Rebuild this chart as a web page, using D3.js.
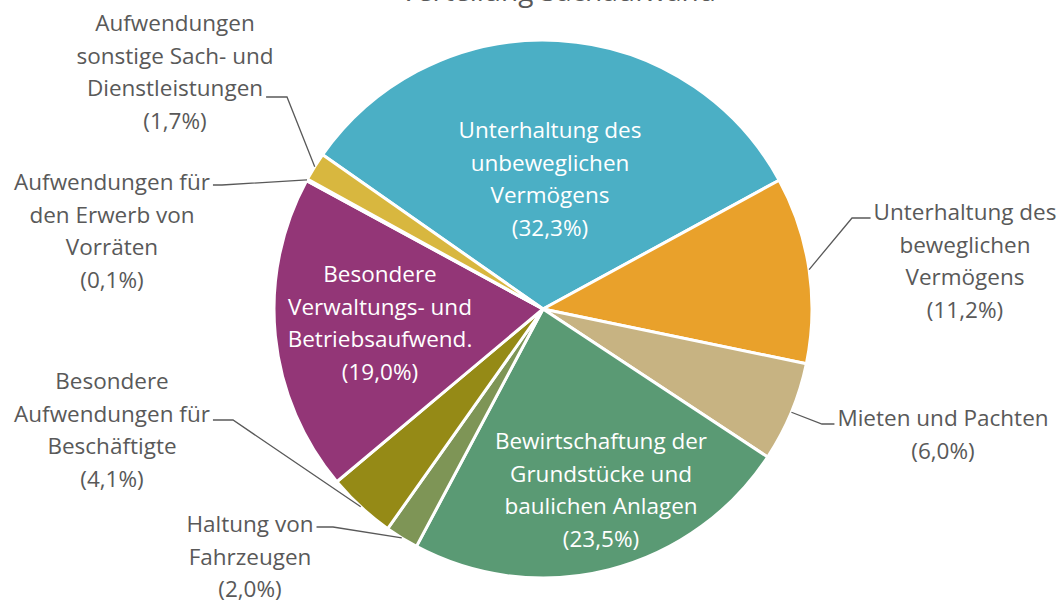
<!DOCTYPE html>
<html>
<head>
<meta charset="utf-8">
<script src="https://cdn.jsdelivr.net/npm/d3@7"></script>
<style>
  body { margin: 0; background: #fff; }
  text { font-family: "Open Sans", sans-serif; }
</style>
</head>
<body>
<div id="chart-area"></div>
<script>
// DATA
var categories = [
    ["Unterhaltung des", "unbeweglichen", "Vermögens"],
    ["Unterhaltung des", "beweglichen", "Vermögens"],
    ["Mieten und Pachten"],
    ["Bewirtschaftung der", "Grundstücke und", "baulichen Anlagen"],
    ["Haltung von", "Fahrzeugen"],
    ["Besondere", "Aufwendungen für", "Beschäftigte"],
    ["Besondere", "Verwaltungs- und", "Betriebsaufwend."],
    ["Aufwendungen für", "den Erwerb von", "Vorräten"],
    ["Aufwendungen", "sonstige Sach- und", "Dienstleistungen"]
];
var values = [32.3, 11.2, 6.0, 23.5, 2.0, 4.1, 19.0, 0.1, 1.7];
var colors = ["#4BAFC5", "#E9A12B", "#C7B382", "#5A9A74", "#7E9556", "#958A16", "#933677", "#C0504D", "#D8B73F"];

// LAYOUT (label centre x, first line y, inside?)
var labelPos = [
    { x: 550, y: 138, inside: true },
    { x: 965, y: 220, inside: false, lineY: 218, lineX: 852, side: "r" },
    { x: 943, y: 426, inside: false, lineY: 424, lineX: 822, side: "r" },
    { x: 601, y: 449, inside: true },
    { x: 250, y: 532, inside: false, lineY: 527, lineX: 333, side: "l" },
    { x: 112, y: 389, inside: false, lineY: 420, lineX: 233, side: "l", lineLine: 1 },
    { x: 380, y: 282, inside: true },
    { x: 112, y: 190, inside: false, lineY: 185, lineX: 222, side: "l" },
    { x: 175, y: 31, inside: false, lineY: 97, lineX: 287, side: "l", lineLine: 2 }
];

var width = 1062, height = 603;
var cx = 543, cy = 309, radius = 269;
var lineH = 32.5;
var fontSize = "22.5px";

var svg = d3.select("#chart-area")
    .append("svg")
    .attr("width", width)
    .attr("height", height);

// Title (cut off at top in the reference)
svg.append("text")
    .attr("x", 558)
    .attr("y", 0.5)
    .attr("text-anchor", "middle")
    .attr("font-size", "28px")
    .attr("fill", "#595959")
    .text("Verteilung Sachaufwand");

var g = svg.append("g")
    .attr("transform", "translate(" + cx + "," + cy + ")");

var pie = d3.pie()
    .sort(null)
    .startAngle(-55 * Math.PI / 180)
    .endAngle(305 * Math.PI / 180);

var arcs = pie(values);

var arc = d3.arc().innerRadius(0).outerRadius(radius);
var edge = d3.arc().innerRadius(radius).outerRadius(radius);

g.selectAll("path.slice")
    .data(arcs)
    .enter().append("path")
    .attr("class", "slice")
    .attr("d", arc)
    .attr("fill", (d, i) => colors[i])
    .attr("stroke", "#fff")
    .attr("stroke-width", 3)
    .attr("stroke-linejoin", "round");

function fmt(v) {
    return "(" + v.toFixed(1).replace(".", ",") + "%)";
}

// Leader lines
arcs.forEach((d, i) => {
    var p = labelPos[i];
    if (p.inside) return;
    var e = edge.centroid(d);
    var ex = cx + e[0], ey = cy + e[1];
    // where the text line ends
    var lines = categories[i];
    var li = p.lineLine || 0;
    var tmp = svg.append("text").attr("font-size", fontSize).text(lines[li]);
    var w = tmp.node().getComputedTextLength();
    tmp.remove();
    var tx = p.side === "l" ? p.x + w / 2 + 3 : p.x - w / 2 - 3;
    svg.append("path")
        .attr("d", "M" + tx + "," + p.lineY + "L" + p.lineX + "," + p.lineY + "L" + ex + "," + ey)
        .attr("fill", "none")
        .attr("stroke", "#595959")
        .attr("stroke-width", 1.3);
});

// Labels
arcs.forEach((d, i) => {
    var p = labelPos[i];
    var lines = categories[i].concat([fmt(values[i])]);
    var t = svg.append("text")
        .attr("text-anchor", "middle")
        .attr("font-size", fontSize)
        .attr("fill", p.inside ? "#ffffff" : "#595959");
    lines.forEach((s, j) => {
        t.append("tspan")
            .attr("x", p.x)
            .attr("y", p.y + j * lineH)
            .text(s);
    });
});
</script>
</body>
</html>
